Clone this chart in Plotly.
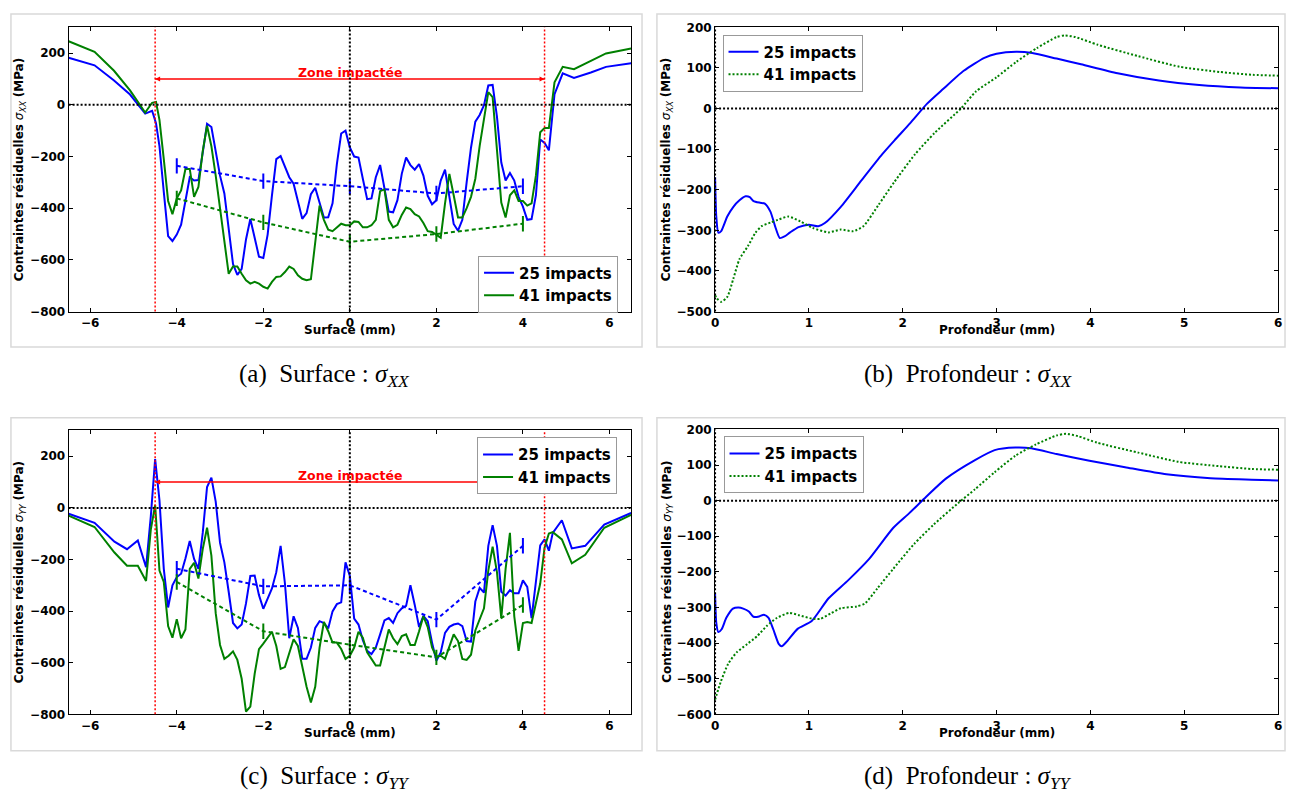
import numpy as np
import plotly.graph_objects as go

W, H = 1291, 798

# ---------------- data: surface profiles (panel a, sigma_XX) ----------------
GRID_IN = [round(-4.4 + 0.1 * i, 1) for i in range(91)]  # -4.4 ... 4.6
X_A = [-6.5, -5.9, -5.45, -5.08, -4.73, -4.57, -4.48] + GRID_IN + [4.73, 4.92, 5.18, 5.57, 5.92, 6.5]
A_25 = [182, 153, 94, 40, -34, -23, -71,
        -160, -337, -508, -527,
        -502, -464, -375, -280, -293, -291, -185, -73, -86, -185,
        -274, -343, -489, -616, -658, -635, -521, -442, -514, -588,
        -593, -502, -350, -210, -198, -242, -280, -305, -375, -441,
        -419, -346, -321, -375, -436, -435, -381, -229, -111, -100,
        -165,
        -200, -204, -286, -365, -362, -280, -233, -324, -413,
        -416, -369, -267, -204, -233, -251, -229, -274, -352, -385,
        -369, -293, -251, -356, -461, -487, -445, -299, -166, -65,
        -39, -1, 75, 77, -46, -223, -293, -264, -293, -356,
        -394, -445, -442, -350, -134, -147, -176,
        41, 122, 104, 125, 147, 161]
A_41 = [246, 205, 132, 56, -30, 8, 11,
        -58, -210, -372, -423,
        -362, -331, -248, -248, -356, -318, -179, -81, -160, -274,
        -400, -540, -654, -626, -626, -654, -679, -692, -685, -692,
        -704, -711, -685, -666, -664, -647, -626, -635, -660, -673,
        -679, -675, -530, -390, -445, -483, -489, -473, -460, -466,
        -466,
        -451, -453, -474, -474, -466, -445, -334, -327, -445,
        -474, -464, -426, -397, -403, -423, -432, -457, -489, -492,
        -502, -514, -381, -267, -350, -436, -436, -400, -356, -286,
        -160, -46, 49, 30, -160, -378, -436, -350, -331, -372,
        -372, -390, -381, -274, -106, -90, -90,
        87, 147, 138, 170, 199, 218]

# ---------------- data: surface profiles (panel c, sigma_YY) ----------------
X_C = [-6.5, -5.9, -5.44, -5.15, -4.9, -4.71, -4.6, -4.5] + GRID_IN + [4.69, 4.9, 5.13, 5.44, 5.88, 6.5]
C_25 = [-23, -58, -131, -160, -126, -230, -33, 189,
        30, -236, -386, -300,
        -268, -255, -196, -128, -198, -236, -97, 81, 117, 24,
        -135, -211, -325, -446, -467, -452, -370, -264, -262, -338,
        -391, -351, -312, -249, -147, -293, -505, -420, -465, -585,
        -585, -541, -465, -439, -446, -467, -401, -373, -366, -211,
        -264,
        -429, -452, -513, -554, -566, -541, -490, -436, -427,
        -446, -408, -389, -380, -300, -376, -462, -418, -439, -522,
        -592, -560, -484, -461, -452, -448, -458, -516, -518, -363,
        -310, -328, -147, -67, -147, -325, -340, -319, -331, -331,
        -281, -306, -427, -287, -145, -122, -166,
        -97, -48, -157, -147, -65, -20]
C_41 = [-30, -74, -173, -224, -224, -283, -84, 11,
        -243, -287, -458, -503,
        -431, -505, -471, -236, -213, -274, -160, -77, -185, -408,
        -531, -585, -573, -556, -589, -662, -789, -770, -643, -547,
        -526, -503, -480, -535, -624, -617, -560, -509, -535, -617,
        -693, -754, -693, -541, -442, -478, -522, -522, -547, -585,
        -573,
        -541, -480, -503, -560, -585, -611, -611, -541, -471,
        -505, -528, -497, -490, -531, -531, -478, -420, -462, -541,
        -577, -573, -585, -541, -490, -516, -585, -589, -569, -475,
        -433, -389, -243, -150, -249, -427, -236, -97, -420, -554,
        -446, -442, -446, -370, -293, -154, -99,
        -94, -122, -215, -182, -77, -27]

# ---------------- data: mean values (dotted fits with bars) ----------------
FIT_X = [-4, -2, 0, 2, 4]
FIT_A_25 = [-236, -295, -315, -343, -315]
FIT_A_41 = [-362, -455, -530, -500, -460]
FIT_C_25 = [-236, -304, -300, -433, -147]
FIT_C_41 = [-287, -478, -530, -579, -376]

# ---------------- data: depth profiles ----------------
XB_25 = [0, 0.013, 0.035, 0.065, 0.13, 0.195, 0.26, 0.325, 0.37, 0.41, 0.48, 0.53, 0.59, 0.64, 0.69,
         0.74, 0.8, 0.89, 1.0, 1.1, 1.17, 1.34, 1.56, 1.78, 1.91, 2.08, 2.26, 2.43, 2.65, 2.87, 3.0,
         3.21, 3.38, 3.64, 3.9, 4.29, 4.73, 5.16, 5.6, 6.0]
B_25 = [-169, -266, -306, -302, -266, -242, -226, -216, -218, -228, -232, -234, -254, -290, -319,
        -315, -305, -292, -286, -290, -282, -242, -177, -113, -79, -36, 12, 48, 93, 125, 135,
        140, 137, 123, 109, 87, 69, 58, 52, 50]
XB_41 = [0, 0.02, 0.065, 0.13, 0.195, 0.26, 0.35, 0.43, 0.5, 0.59, 0.67, 0.78, 0.91, 1.04, 1.21,
         1.34, 1.47, 1.58, 1.74, 1.91, 2.13, 2.34, 2.62, 2.78, 3.0, 3.21, 3.43, 3.64, 3.73, 3.84,
         4.08, 4.51, 4.95, 5.38, 5.73, 6.0]
B_41 = [-460, -468, -476, -464, -419, -371, -339, -306, -289, -281, -274, -266, -278, -294, -305,
        -298, -302, -290, -238, -181, -113, -60, 0, 42, 77, 115, 149, 176, 180, 176,
        157, 129, 103, 90, 83, 81]
XD_25 = [0, 0.013, 0.035, 0.07, 0.12, 0.19, 0.25, 0.3, 0.36, 0.41, 0.47, 0.52, 0.57, 0.62, 0.68,
         0.71, 0.77, 0.88, 1.03, 1.21, 1.42, 1.64, 1.9, 2.07, 2.25, 2.46, 2.77, 2.98, 3.2, 3.37,
         3.64, 3.99, 4.37, 4.81, 5.28, 5.72, 6.0]
D_25 = [-260, -343, -369, -361, -329, -303, -300, -303, -311, -326, -325, -320, -329, -361, -403,
        -409, -394, -360, -338, -274, -223, -164, -76, -35, 11, 62, 114, 142, 149, 147,
        131, 112, 94, 74, 63, 59, 57]
XD_41 = [0, 0.06, 0.14, 0.23, 0.34, 0.45, 0.55, 0.66, 0.79, 0.9, 1.03, 1.12, 1.23, 1.34, 1.51,
         1.6, 1.73, 1.9, 2.12, 2.33, 2.59, 2.77, 2.98, 3.2, 3.42, 3.64, 3.74, 3.87, 4.07, 4.51,
         4.94, 5.37, 5.72, 6.0]
D_41 = [-559, -509, -458, -426, -403, -380, -352, -329, -315, -322, -331, -332, -317, -302, -297,
        -288, -246, -191, -122, -67, -7, 32, 80, 126, 158, 183, 188, 181, 163, 135,
        109, 97, 89, 87]

ZONE = [-4.5, 4.5]
ARROW_Y = 100
LABELS = ["25 impacts", "41 impacts"]
CAPTIONS = ["(a)\u00a0\u00a0Surface : <i>σ</i><sub><i>XX</i></sub>",
            "(b)\u00a0\u00a0Profondeur : <i>σ</i><sub><i>XX</i></sub>",
            "(c)\u00a0\u00a0Surface : <i>σ</i><sub><i>YY</i></sub>",
            "(d)\u00a0\u00a0Profondeur : <i>σ</i><sub><i>YY</i></sub>"]

BLUE = "#0000ff"
GREEN = "#008000"
RED = "#ff0000"


def px_x(p):
    return p / W


def px_y(p):
    return 1 - p / H


fig = go.Figure()

# panel geometry (pixels)
LEFT_X = (65, 631)
RIGHT_X = (715.5, 1282)
TOP_Y = (20.7, 310)
BOT_Y_C = (431, 720)
BOT_Y_D = (430, 720)

TICKFONT = dict(family="DejaVu Sans", size=12, color="black", weight="bold")


def axis_common():
    return dict(showgrid=False, zeroline=False, showline=True, linecolor="black", linewidth=1,
                mirror="ticks", ticks="inside", ticklen=4, tickwidth=1, tickcolor="black",
                tickfont=TICKFONT)


layout_axes = {}
panels = [
    ("x", "y", LEFT_X, TOP_Y, [-6.5, 6.5], 2, [-800, 300], 200),
    ("x2", "y2", RIGHT_X, TOP_Y, [0, 6], 1, [-500, 200], 100),
    ("x3", "y3", LEFT_X, BOT_Y_C, [-6.5, 6.5], 2, [-800, 300], 200),
    ("x4", "y4", RIGHT_X, BOT_Y_D, [0, 6], 1, [-600, 200], 100),
]
for xa, ya, xd, yd, xr, xdt, yr, ydt in panels:
    xname = "xaxis" + xa[1:]
    yname = "yaxis" + ya[1:]
    layout_axes[xname] = dict(axis_common(), domain=[px_x(xd[0]), px_x(xd[1])], range=xr,
                              dtick=xdt, tick0=0, anchor=ya)
    layout_axes[yname] = dict(axis_common(), domain=[px_y(yd[1]), px_y(yd[0])], range=yr,
                              dtick=ydt, tick0=0, anchor=xa)


def add_surface(xa, ya, xs, s25, s41, f25, f41, legend):
    fig.add_trace(go.Scatter(x=xs, y=s25, mode="lines", line=dict(color=BLUE, width=2),
                             name=LABELS[0], xaxis=xa, yaxis=ya, legend=legend))
    fig.add_trace(go.Scatter(x=xs, y=s41, mode="lines", line=dict(color=GREEN, width=2),
                             name=LABELS[1], xaxis=xa, yaxis=ya, legend=legend))
    for f, c in ((f25, BLUE), (f41, GREEN)):
        fig.add_trace(go.Scatter(x=FIT_X, y=f, mode="lines+markers",
                                 line=dict(color=c, width=2, dash="4px,3px"),
                                 marker=dict(symbol="line-ns", size=11, color=c,
                                             line=dict(width=2, color=c)),
                                 showlegend=False, xaxis=xa, yaxis=ya))
    # arrow "Zone impactée"
    fig.add_trace(go.Scatter(x=ZONE, y=[ARROW_Y, ARROW_Y], mode="lines+markers",
                             line=dict(color=RED, width=1.5),
                             marker=dict(symbol=["arrow-left", "arrow-right"], size=5, color=RED),
                             showlegend=False, xaxis=xa, yaxis=ya))


def add_depth(xa, ya, x25, s25, x41, s41, legend):
    fig.add_trace(go.Scatter(x=x25, y=s25, mode="lines", line=dict(color=BLUE, width=2, shape="spline",
                                                                   smoothing=0.6),
                             name=LABELS[0], xaxis=xa, yaxis=ya, legend=legend))
    fig.add_trace(go.Scatter(x=x41, y=s41, mode="lines", line=dict(color=GREEN, width=2, dash="2px,2px",
                                                                   shape="spline", smoothing=0.6),
                             name=LABELS[1], xaxis=xa, yaxis=ya, legend=legend))


add_surface("x", "y", X_A, A_25, A_41, FIT_A_25, FIT_A_41, "legend")
add_depth("x2", "y2", XB_25, B_25, XB_41, B_41, "legend2")
add_surface("x3", "y3", X_C, C_25, C_41, FIT_C_25, FIT_C_41, "legend3")
add_depth("x4", "y4", XD_25, D_25, XD_41, D_41, "legend4")

shapes = []
annotations = []
BLACK_DOT = dict(color="black", width=2, dash="2px,2px")
RED_DOT = dict(color=RED, width=1.5, dash="2px,2px")
for xa, ya in (("x", "y"), ("x3", "y3")):
    shapes.append(dict(type="line", xref=xa + " domain", yref=ya, x0=0, x1=1, y0=0, y1=0, line=BLACK_DOT))
    shapes.append(dict(type="line", xref=xa, yref=ya + " domain", x0=0, x1=0, y0=0, y1=1, line=BLACK_DOT))
    for zx in ZONE:
        shapes.append(dict(type="line", xref=xa, yref=ya + " domain", x0=zx, x1=zx, y0=0, y1=1, line=RED_DOT))
    annotations.append(dict(text="<b>Zone impactée</b>", x=0, y=ARROW_Y, xref=xa, yref=ya,
                            showarrow=False, yanchor="middle", yshift=7,
                            font=dict(family="DejaVu Sans", size=12.5, color=RED)))
for xa, ya in (("x2", "y2"), ("x4", "y4")):
    shapes.append(dict(type="line", xref=xa + " domain", yref=ya, x0=0, x1=1, y0=0, y1=0, line=BLACK_DOT))
    shapes.append(dict(type="line", xref=xa, yref=ya + " domain", x0=0, x1=0, y0=0, y1=1, line=BLACK_DOT))

# frames around each sub-figure
FRAME = dict(color="#d9d9d9", width=1.5)
for (x0, x1), (y0, y1) in (((7, 642), (7, 346)), ((657, 1289), (7, 346)),
                           ((7, 642), (418, 757)), ((657, 1289), (418, 757))):
    shapes.append(dict(type="rect", xref="paper", yref="paper", x0=px_x(x0), x1=px_x(x1),
                       y0=px_y(y1), y1=px_y(y0), line=FRAME, layer="below"))

# axis titles
TFONT = dict(family="DejaVu Sans", size=12, color="black")
for xtitle, xd, yd in (("Surface (mm)", LEFT_X, TOP_Y), ("Profondeur (mm)", RIGHT_X, TOP_Y),
                       ("Surface (mm)", LEFT_X, BOT_Y_C), ("Profondeur (mm)", RIGHT_X, BOT_Y_D)):
    annotations.append(dict(text="<b>" + xtitle + "</b>", xref="paper", yref="paper",
                            x=px_x((xd[0] + xd[1]) / 2), y=px_y(yd[1] + 19), showarrow=False,
                            xanchor="center", yanchor="middle", font=TFONT))
for comp, xp, yd in (("XX", 17, TOP_Y), ("XX", 668, TOP_Y), ("YY", 17, BOT_Y_C), ("YY", 668, BOT_Y_D)):
    annotations.append(dict(text="<b>Contraintes résiduelles</b> <i>σ<sub>" + comp + "</sub></i> <b>(MPa)</b>",
                            xref="paper", yref="paper", x=px_x(xp), y=px_y((yd[0] + yd[1]) / 2),
                            showarrow=False, textangle=-90, xanchor="center", yanchor="middle",
                            font=TFONT))

# captions
CFONT = dict(family="Liberation Serif", size=25, color="black")
for cap, cx, cy in zip(CAPTIONS, (323, 971, 323, 970), (375, 375, 784, 784)):
    annotations.append(dict(text=cap, xref="paper", yref="paper", x=px_x(cx), y=px_y(cy),
                            showarrow=False, xanchor="center", yanchor="middle", font=CFONT))

LEGFONT = dict(family="DejaVu Sans", size=15, color="black", weight="bold")


def legend_at(lx, ly):
    return dict(x=px_x(lx), y=px_y(ly), xref="paper", yref="paper", xanchor="left", yanchor="top",
                bgcolor="white", bordercolor="#999999", borderwidth=1, font=LEGFONT,
                itemwidth=30, tracegroupgap=0)


fig.update_layout(
    width=W, height=H, margin=dict(l=0, r=0, t=0, b=0),
    paper_bgcolor="white", plot_bgcolor="white",
    showlegend=True,
    legend=legend_at(477, 253),
    legend2=legend_at(723, 28),
    legend3=legend_at(476, 438),
    legend4=legend_at(724, 437),
    shapes=shapes, annotations=annotations,
    **layout_axes,
)

fig.write_html("out.html", config={"displayModeBar": False},
               post_script="document.body.style.margin='0';document.body.style.overflow='hidden';")
